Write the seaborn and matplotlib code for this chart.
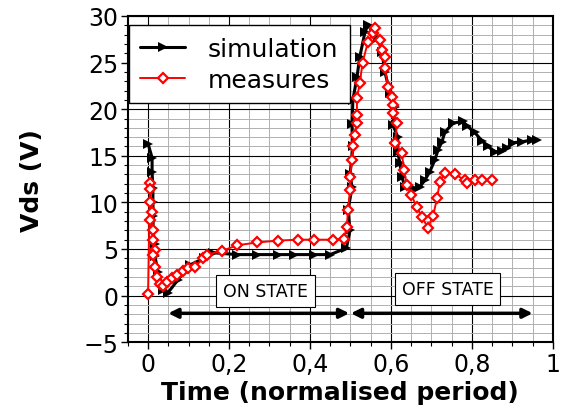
import numpy as np
import pandas as pd
import matplotlib
matplotlib.use("Agg")
import matplotlib.pyplot as plt
import seaborn as sns
from matplotlib.ticker import MultipleLocator, FuncFormatter

# simulation (black triangles)
t_sim = [0.0, 0.010, 0.010, 0.012, 0.012, 0.013, 0.012, 0.017, 0.017, 0.025, 0.037, 0.049,
         0.074, 0.104, 0.138, 0.160, 0.220, 0.270, 0.320, 0.360, 0.410, 0.450, 0.490,
         0.499, 0.494, 0.504, 0.499, 0.506, 0.504, 0.506, 0.516, 0.523, 0.536, 0.543,
         0.568, 0.578, 0.585, 0.598, 0.610, 0.605, 0.617, 0.617, 0.622, 0.627, 0.635,
         0.659, 0.672, 0.684, 0.696, 0.709, 0.716, 0.726, 0.733, 0.753, 0.778, 0.788,
         0.807, 0.825, 0.840, 0.857, 0.874, 0.886, 0.901, 0.923, 0.948, 0.960]
v_sim = [16.3, 14.8, 13.3, 11.5, 10.0, 8.5, 7.0, 5.5, 4.2, 2.5, 0.6, 0.3,
         1.7, 3.3, 4.0, 4.6, 4.4, 4.4, 4.4, 4.4, 4.4, 4.4, 5.1,
         7.0, 9.2, 11.6, 13.0, 16.0, 18.4, 21.0, 23.4, 25.6, 28.3, 29.0,
         27.6, 26.1, 24.0, 21.7, 20.2, 18.3, 17.0, 15.4, 14.2, 12.7, 11.7,
         11.4, 11.7, 12.4, 13.3, 14.6, 15.6, 16.5, 17.5, 18.5, 18.7, 18.2,
         17.5, 16.6, 16.0, 15.4, 15.5, 15.8, 16.4, 16.5, 16.7, 16.7]

# measures (red diamonds)
t_mes = [0.0, 0.005, 0.005, 0.005, 0.010, 0.005, 0.012, 0.012, 0.017, 0.012, 0.017,
         0.022, 0.030, 0.037, 0.047, 0.059, 0.072, 0.086, 0.099, 0.116, 0.136, 0.146,
         0.183, 0.220, 0.270, 0.320, 0.370, 0.410, 0.457, 0.484, 0.491, 0.494, 0.499,
         0.499, 0.504, 0.506, 0.511, 0.516, 0.516, 0.516, 0.523, 0.530, 0.543, 0.556,
         0.560, 0.573, 0.578, 0.585, 0.585, 0.593, 0.602, 0.605, 0.605, 0.615, 0.610,
         0.627, 0.632, 0.639, 0.650, 0.664, 0.677, 0.691, 0.704, 0.714, 0.721, 0.733,
         0.758, 0.783, 0.788, 0.807, 0.825, 0.850]
v_mes = [0.2, 12.1, 11.4, 10.0, 9.0, 8.1, 7.0, 6.0, 4.9, 4.4, 3.1,
         2.0, 1.2, 1.0, 1.5, 1.9, 2.2, 2.6, 3.0, 3.1, 4.0, 4.4,
         4.8, 5.4, 5.7, 5.9, 6.0, 6.0, 6.0, 6.1, 7.4, 9.2, 11.3,
         12.7, 14.6, 16.0, 17.2, 18.5, 19.4, 21.2, 22.8, 25.0, 27.2, 28.2,
         28.7, 27.4, 26.3, 25.6, 24.4, 22.4, 21.3, 20.4, 19.6, 18.5, 16.4,
         15.3, 13.5, 11.9, 10.8, 9.5, 8.4, 7.3, 8.5, 10.5, 12.2, 13.2,
         13.0, 12.4, 12.1, 12.4, 12.4, 12.4]

sim = pd.DataFrame({"t": t_sim, "v": v_sim})
mes = pd.DataFrame({"t": t_mes, "v": v_mes})

sns.set_style("white")
plt.rcParams["font.family"] = ["DejaVu Sans"]
plt.rcParams["text.color"] = "black"
plt.rcParams["xtick.color"] = "black"
plt.rcParams["ytick.color"] = "black"
plt.rcParams["axes.labelcolor"] = "black"

fig = plt.figure(figsize=(5.63, 4.14), dpi=100)
ax = fig.add_axes([0.227, 0.171, 0.755, 0.788])

sns.lineplot(data=sim, x="t", y="v", sort=False, estimator=None, ax=ax,
             color="black", lw=2.2, marker=">", markersize=7, markeredgewidth=0,
             label="simulation", zorder=3)
sns.lineplot(data=mes, x="t", y="v", sort=False, estimator=None, ax=ax,
             color="red", lw=1.4, marker="D", markersize=5.5, markerfacecolor="white",
             markeredgecolor="red", markeredgewidth=1.6, label="measures", zorder=4)

ax.set_xlim(-0.05, 1.0)
ax.set_ylim(-5, 30)
ax.xaxis.set_major_locator(MultipleLocator(0.2))
ax.xaxis.set_minor_locator(MultipleLocator(0.05))
ax.yaxis.set_major_locator(MultipleLocator(5))
ax.yaxis.set_minor_locator(MultipleLocator(1))
ax.xaxis.set_major_formatter(FuncFormatter(lambda v, p: f"{v:g}".replace(".", ",")))
ax.yaxis.set_major_formatter(FuncFormatter(lambda v, p: f"{v:g}".replace("-", "\u2212")))
ax.grid(which="major", color="black", lw=0.8)
ax.grid(which="minor", color="#b0b0b0", lw=0.7)
ax.set_axisbelow(True)
ax.tick_params(which="major", direction="out", length=5, width=1, labelsize=17, pad=2)
ax.tick_params(which="minor", direction="out", length=3, width=0.8)
ax.tick_params(axis="x", which="both", bottom=True)
ax.tick_params(axis="y", which="both", left=True)
for s in ax.spines.values():
    s.set_color("black")
    s.set_linewidth(1.5)

ax.set_xlabel("Time (normalised period)", fontsize=18, fontweight="bold", labelpad=3)
ax.set_ylabel("Vds (V)", fontsize=18, fontweight="bold", labelpad=28)

# state arrows
arr = dict(arrowstyle="<|-|>", color="black", lw=2.5, mutation_scale=14, shrinkA=0, shrinkB=0)
ax.annotate("", xy=(0.05, -1.9), xytext=(0.497, -1.9), arrowprops=arr, zorder=5)
ax.annotate("", xy=(0.501, -1.9), xytext=(0.95, -1.9), arrowprops=arr, zorder=5)
box = dict(boxstyle="square,pad=0.4", fc="white", ec="black", lw=0.8)
ax.text(0.29, 0.5, "ON STATE", fontsize=12.5, ha="center", va="center", bbox=box, zorder=5)
ax.text(0.74, 0.75, "OFF STATE", fontsize=12.5, ha="center", va="center", bbox=box, zorder=5)

leg = ax.legend(loc="upper left", bbox_to_anchor=(0.0, 0.975), fontsize=18, frameon=True,
                fancybox=False, edgecolor="black", framealpha=1, borderpad=0.45,
                handlelength=1.8, handletextpad=0.9, labelspacing=0.3, borderaxespad=0.05)
leg.get_frame().set_linewidth(1.0)

fig.savefig("out.png", dpi=100)
